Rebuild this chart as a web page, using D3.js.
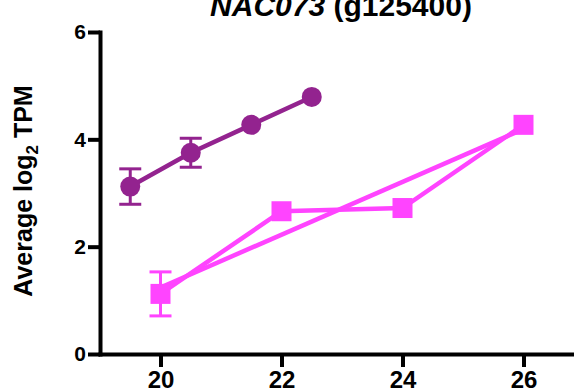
<!DOCTYPE html>
<html>
<head>
<meta charset="utf-8">
<script src="https://cdn.jsdelivr.net/npm/d3@7"></script>
<style>
  body { margin: 0; background: #fff; }
  svg { display: block; font-family: "Liberation Sans", Arial, sans-serif; font-weight: bold; }
</style>
</head>
<body>
<div id="chart"></div>
<script>
// data
const xTicks = [20, 22, 24, 26];
const yTicks = [0, 2, 4, 6];

const purpleX = [19.5, 20.5, 21.5, 22.5];
const purpleY = [3.12, 3.75, 4.27, 4.79];
const purpleErr = [0.33, 0.27, 0, 0];

const pinkX = [20, 22, 24, 26];
const pinkY = [1.12, 2.66, 2.72, 4.27];
const pinkErr = [0.41, 0, 0, 0];

const pinkTrendX = [20, 26];
const pinkTrendY = [1.24, 4.19];

const purple = "#93238f";
const pink = "#ff44ff";

const width = 574, height = 391;

const svg = d3.select("#chart").append("svg")
  .attr("width", width)
  .attr("height", height);

const x = d3.scaleLinear().domain([19, 27]).range([100, 584]);
const y = d3.scaleLinear().domain([0, 6]).range([354, 32]);

// axes
const yAxis = svg.append("g")
  .attr("transform", `translate(${x(19)},0)`)
  .call(d3.axisLeft(y).tickValues(yTicks).tickFormat(d3.format("d"))
    .tickSizeInner(12).tickSizeOuter(0).tickPadding(2));
yAxis.selectAll("text").style("font-size", "21px").attr("fill", "#000");

const xAxis = svg.append("g")
  .attr("transform", `translate(0,${y(0)})`)
  .call(d3.axisBottom(x).tickValues(xTicks).tickFormat(d3.format("d"))
    .tickSizeInner(13).tickSizeOuter(0).tickPadding(4));
xAxis.selectAll("text").style("font-size", "24px").attr("fill", "#000");

svg.selectAll(".domain, .tick line")
  .attr("stroke", "#000")
  .attr("stroke-width", 4)
  .attr("stroke-linecap", "square");
svg.selectAll(".tick line").attr("stroke-linecap", "butt");
svg.selectAll("g").attr("font-family", null).attr("font-size", null);

// lines
const line = d3.line().x(d => x(d[0])).y(d => y(d[1]));

svg.append("path")
  .datum(d3.zip(pinkTrendX, pinkTrendY))
  .attr("d", line)
  .attr("fill", "none")
  .attr("stroke", pink)
  .attr("stroke-width", 4.5);

svg.append("path")
  .datum(d3.zip(pinkX, pinkY))
  .attr("d", line)
  .attr("fill", "none")
  .attr("stroke", pink)
  .attr("stroke-width", 4.5);

svg.append("path")
  .datum(d3.zip(purpleX, purpleY))
  .attr("d", line)
  .attr("fill", "none")
  .attr("stroke", purple)
  .attr("stroke-width", 4.5);

// error bars
function errorBars(xs, ys, errs, color) {
  const pts = d3.zip(xs, ys, errs).filter(d => d[2] > 0);
  const g = svg.append("g").attr("stroke", color).attr("stroke-width", 3);
  pts.forEach(d => {
    g.append("line")
      .attr("x1", x(d[0])).attr("x2", x(d[0]))
      .attr("y1", y(d[1] - d[2])).attr("y2", y(d[1] + d[2]));
    [d[1] - d[2], d[1] + d[2]].forEach(v => {
      g.append("line")
        .attr("x1", x(d[0]) - 11).attr("x2", x(d[0]) + 11)
        .attr("y1", y(v)).attr("y2", y(v));
    });
  });
}
errorBars(pinkX, pinkY, pinkErr, pink);
errorBars(purpleX, purpleY, purpleErr, purple);

// markers
svg.selectAll(".sq")
  .data(d3.zip(pinkX, pinkY))
  .join("rect")
  .attr("class", "sq")
  .attr("x", d => x(d[0]) - 10)
  .attr("y", d => y(d[1]) - 10)
  .attr("width", 20)
  .attr("height", 20)
  .attr("fill", pink);

svg.selectAll(".dot")
  .data(d3.zip(purpleX, purpleY))
  .join("circle")
  .attr("class", "dot")
  .attr("cx", d => x(d[0]))
  .attr("cy", d => y(d[1]))
  .attr("r", 10)
  .attr("fill", purple);

// title
const title = svg.append("text")
  .attr("x", 341)
  .attr("y", 16)
  .attr("text-anchor", "middle")
  .style("font-size", "30px");
title.append("tspan").style("font-style", "italic").text("NAC073");
title.append("tspan").text(" (g125400)");

// y label
const ylab = svg.append("text")
  .attr("transform", "translate(32,191) rotate(-90)")
  .attr("text-anchor", "middle")
  .style("font-size", "25px");
ylab.append("tspan").text("Average log");
ylab.append("tspan").attr("dy", 6).style("font-size", "17px").text("2");
ylab.append("tspan").attr("dy", -6).text(" TPM");
</script>
</body>
</html>
